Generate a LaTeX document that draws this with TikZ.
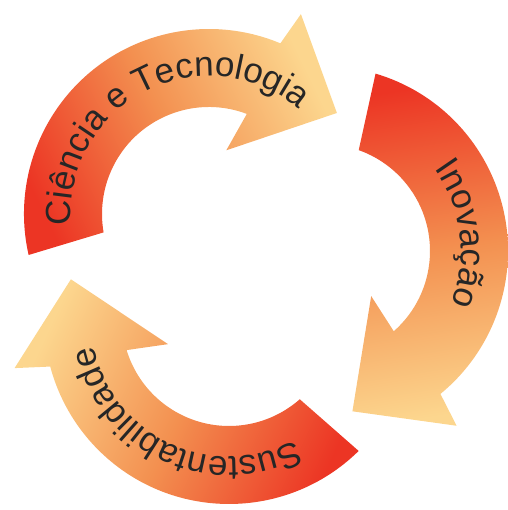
\documentclass[tikz,border=0pt]{standalone}
\usepackage{fontspec}
\setmainfont{Liberation Sans}
\usetikzlibrary{decorations.text}

\definecolor{arrowred}{HTML}{EC3524}
\definecolor{arrowmid}{HTML}{F39050}
\definecolor{arrowlight}{HTML}{FCD68E}
\newcommand{\labelfont}{\fontsize{35}{41}\selectfont\color{black!85}}

\begin{document}
\begin{tikzpicture}[x=1pt, y=1pt,
    cyclearrow/.style ={left color=arrowred, right color=arrowlight,
        middle color=arrowmid, shading angle=#1},
    arclabel/.style ={decorate, decoration={text along path,
        text align=center, text={|\labelfont|#1}}}]
   \useasboundingbox (0,0) rectangle (507,510);

   % centres of the three arcs
   \coordinate (ciencia)  at (209,296);
   \coordinate (inovacao) at (323,259);
   \coordinate (sustent)  at (229,191);

   % Ciencia e Tecnologia
   \shade[cyclearrow=116] ([shift={(ciencia)}]192.8:185)
      arc[start angle=192.8, end angle=67.3, radius=185]
      -- ([shift={(ciencia)}]65.3:220) -- ([shift={(ciencia)}]38.3:163)
      -- ([shift={(ciencia)}]74.8:66) -- ([shift={(ciencia)}]69.3:107)
      arc[start angle=69.3, end angle=189.9, radius=107] -- cycle;

   % Inovacao
   \shade[cyclearrow=9] ([shift={(inovacao)}]73.5:185)
      arc[start angle=73.5, end angle=-50.6, radius=185]
      -- ([shift={(inovacao)}]-52.6:220) -- ([shift={(inovacao)}]-79.6:163)
      -- ([shift={(inovacao)}]-43.1:66) -- ([shift={(inovacao)}]-48.6:107)
      arc[start angle=-48.6, end angle=70.5, radius=107] -- cycle;

   % Sustentabilidade
   \shade[cyclearrow=245] ([shift={(sustent)}]-45.5:185)
      arc[start angle=-45.5, end angle=-165.1, radius=185]
      -- ([shift={(sustent)}]-167.1:220) -- ([shift={(sustent)}]-194.1:163)
      -- ([shift={(sustent)}]-157.6:66) -- ([shift={(sustent)}]-163.1:107)
      arc[start angle=-163.1, end angle=-48.6, radius=107] -- cycle;

   \path[arclabel={Ciência e Tecnologia}] ([shift={(ciencia)}]192:138)
      arc[start angle=192, end angle=42, radius=138];
   \path[arclabel={Inovação}] ([shift={(inovacao)}]67:138)
      arc[start angle=67, end angle=-53, radius=138];
   \path[arclabel={Sustentabilidade}] ([shift={(sustent)}]-40:138)
      arc[start angle=-40, end angle=-190, radius=138];
 \end{tikzpicture}
\end{document}
